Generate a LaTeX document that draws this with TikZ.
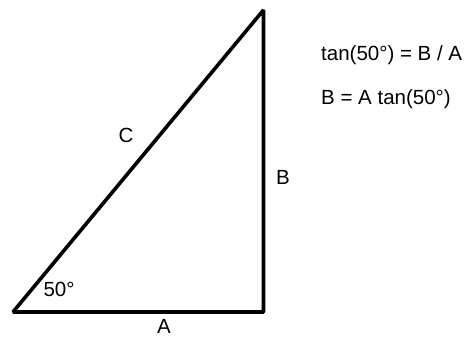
\documentclass[tikz,border=0pt]{standalone}
\usepackage{fontspec}
\setmainfont{Liberation Sans}
\begin{document}
\begin{tikzpicture}[x=1pt,y=-1pt,
  edge/.style={line width=3.6pt,line join=bevel},
  lbl/.style={inner sep=0pt,font=\fontsize{20.5}{24}\selectfont},
  eq/.style={inner sep=0pt,anchor=base west,font=\fontsize{20.5}{24}\selectfont}]
\useasboundingbox (0,0) rectangle (469,337);
\coordinate (P) at (13,312);
\coordinate (Q) at (263.5,312);
\coordinate (R) at (263.5,10);
\draw[edge] (P) -- (Q) -- (R) -- cycle;
\node[lbl] (lc) at (126,135.5) {C};
\node[lbl] (lb) at (283,177) {B};
\node[lbl] (la) at (164,326.5) {A};
\node[lbl] (ang) at (59,289) {50°};
\node[eq] (e1) at (321,61) {tan(50°) = B / A};
\node[eq] (e2) at (321,104) {B = A tan(50°)};
\end{tikzpicture}
\end{document}
